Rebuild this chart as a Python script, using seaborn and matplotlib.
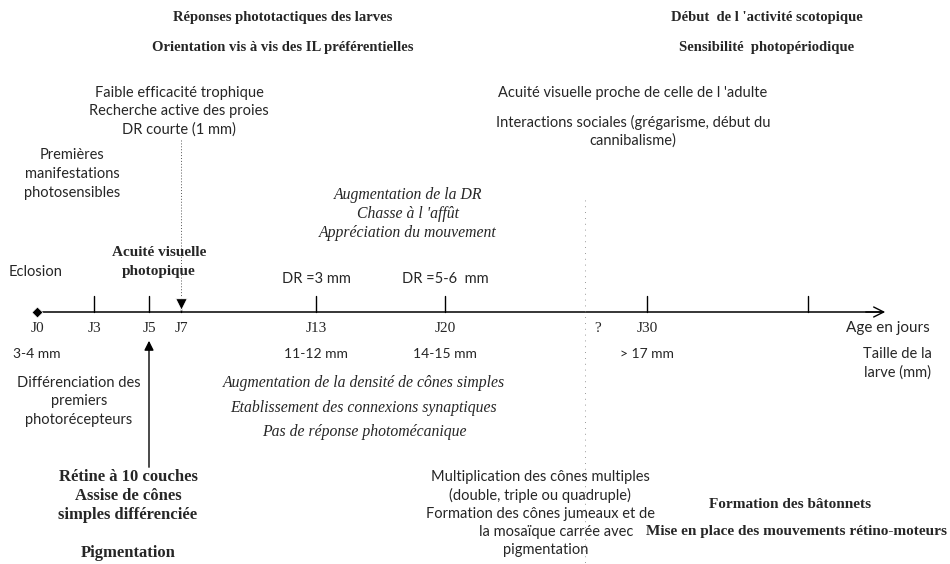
import matplotlib
matplotlib.use("Agg")
import matplotlib.pyplot as plt
import seaborn as sns
import pandas as pd

# ---------------- data ----------------
day_labels = ["J0", "J3", "J5", "J7", "J13", "J20", "?", "J30", ""]
day_pos = [37, 94, 149, 181, 316, 445, 585, 647, 808]       # position along the (non-linear) time axis
tick_days = ["J3", "J5", "J13", "J20", "J30", ""]            # plain vertical ticks
size_days = ["J0", "J13", "J20", "J30"]
size_labels = ["3-4 mm", "11-12 mm", "14-15 mm", "> 17 mm"]
dr_days = ["J13", "J20"]
dr_labels = ["DR =3 mm", "DR =5-6  mm"]

SERIF = "Liberation Serif"
SANS = "Lato"

sns.set_theme(style="white")
plt.rcParams["font.family"] = [SERIF, "DejaVu Sans"]

fig = plt.figure(figsize=(9.5, 5.64), dpi=100)
ax = fig.add_axes([0, 0, 1, 1])
ax.set_xlim(0, 950)
ax.set_ylim(564, 0)
ax.axis("off")

pos = dict(zip(day_labels, day_pos))
Y0 = 312  # time axis level
X_END = 888

# main time axis
axis_df = pd.DataFrame({"x": [pos["J0"], X_END - 6], "y": [Y0, Y0]})
sns.lineplot(data=axis_df, x="x", y="y", ax=ax, color="black", lw=1.1, legend=False)
ax.annotate("", xy=(X_END, Y0), xytext=(X_END - 25, Y0),
            arrowprops=dict(arrowstyle="->", color="black", lw=1.0, mutation_scale=18))

# ticks
for d in tick_days:
    ax.plot([pos[d], pos[d]], [Y0 - 16, Y0], color="black", lw=1.0)

# J0 diamond
sns.scatterplot(x=[pos["J0"]], y=[Y0], marker="D", s=30, color="black", ax=ax, legend=False, zorder=5)

# J7 dotted line and downward triangle
ax.plot([pos["J7"], pos["J7"]], [140, 298], color="#555555", lw=0.7, ls=(0, (1, 2)))
sns.scatterplot(x=[pos["J7"]], y=[Y0 - 8], marker="v", s=70, color="black", ax=ax, legend=False, zorder=5)
ax.plot([pos["J7"], pos["J7"]], [Y0 - 6, Y0], color="black", lw=1.0)

# "?" dotted line
ax.plot([pos["?"], pos["?"]], [200, 564], color="#777777", lw=0.6, ls=(0, (1, 6)))

# J5 upward arrow
ax.annotate("", xy=(pos["J5"], 338), xytext=(pos["J5"], 470),
            arrowprops=dict(arrowstyle="-|>", color="black", lw=1.0, mutation_scale=14))

# day labels
for lab, x in zip(day_labels, day_pos):
    if not lab:
        continue
    xx = x + 13 if lab == "?" else x
    ax.text(xx, 328, lab, ha="center", va="center", fontsize=11, family=SERIF)
ax.text(888, 328, "Age en jours", ha="center", va="center", fontsize=11, family=SANS)

# size labels
for d, lab in zip(size_days, size_labels):
    ax.text(pos[d], 354, lab, ha="center", va="center", fontsize=10, family=SANS)
ax.text(897, 354, "Taille de la", ha="center", va="center", fontsize=10.5, family=SANS)
ax.text(897, 373, "larve (mm)", ha="center", va="center", fontsize=10.5, family=SANS)

# DR labels
for d, lab in zip(dr_days, dr_labels):
    ax.text(pos[d], 279, lab, ha="center", va="center", fontsize=10.5, family=SANS)

def block(x, y, lines, step, **kw):
    for i, t in enumerate(lines):
        ax.text(x, y + i * step, t, ha="center", va="center", **kw)

bold = dict(fontsize=10.5, family=SERIF, fontweight="bold")
bold_big = dict(fontsize=12, family=SERIF, fontweight="bold")
sans = dict(fontsize=10.5, family=SANS)
ital = dict(fontsize=11.3, family=SERIF, style="italic")

# top bold headings
block(283, 18, ["Réponses phototactiques des larves", "Orientation vis à vis des IL préférentielles"], 29, **bold)
block(767, 18, ["Début  de l 'activité scotopique", "Sensibilité  photopériodique"], 29, **bold)

# upper annotations
block(179, 93, ["Faible efficacité trophique", "Recherche active des proies", "DR courte (1 mm)"], 18.5, **sans)
block(633, 93, ["Acuité visuelle proche de celle de l 'adulte"], 0, **sans)
block(633, 122, ["Interactions sociales (grégarisme, début du", "cannibalisme)"], 18.5, **sans)
block(72, 155, ["Premières", "manifestations", "photosensibles"], 19, **sans)
block(408, 195, ["Augmentation de la DR", "Chasse à l 'affût", "Appréciation du mouvement"], 19, **ital)
ax.text(36, 272, "Eclosion", ha="center", va="center", **sans)
block(159, 253, ["Acuité visuelle", "photopique"], 19, fontsize=11, family=SERIF, fontweight="bold")

# lower annotations
block(79, 383, ["Différenciation des", "premiers", "photorécepteurs"], 18.5, **sans)
block(364, 383, ["Augmentation de la densité de cônes simples",
                 "Etablissement des connexions synaptiques",
                 "Pas de réponse photomécanique"], 24.5, **ital)
block(128, 477, ["Rétine à 10 couches", "Assise de cônes", "simples différenciée"], 19, **bold_big)
ax.text(128, 553, "Pigmentation", ha="center", va="center", **bold_big)
block(540, 477, ["Multiplication des cônes multiples", "(double, triple ou quadruple)",
                 "Formation des cônes jumeaux et de"], 18.3, **sans)
ax.text(556, 477 + 3 * 18.3, "la mosaïque carrée avec", ha="center", va="center", **sans)
ax.text(546, 477 + 4 * 18.3, "pigmentation", ha="center", va="center", **sans)
block(790, 505, ["Formation des bâtonnets"], 0, fontsize=11, family=SERIF, fontweight="bold")
block(796, 532, ["Mise en place des mouvements rétino-moteurs"], 0, fontsize=11,
      family=SERIF, fontweight="bold")

fig.savefig("out.png", dpi=100, facecolor="white")
